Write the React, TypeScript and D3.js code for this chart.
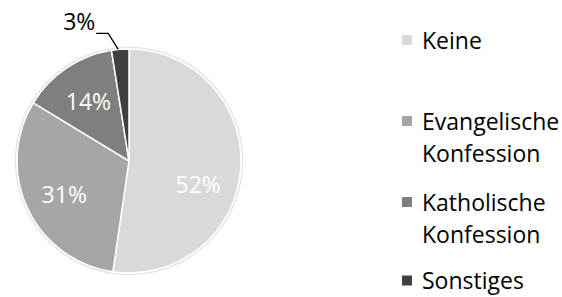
import React from "react";
import * as d3 from "d3";

const categories = ["Keine", "Evangelische Konfession", "Katholische Konfession", "Sonstiges"];
const values = [52.3, 31.4, 13.8, 2.5];
const labels = ["52%", "31%", "14%", "3%"];
const legendLines = [["Keine"], ["Evangelische", "Konfession"], ["Katholische", "Konfession"], ["Sonstiges"]];
const colors = ["#d9d9d9", "#a6a6a6", "#7f7f7f", "#404040"];
const labelAngleShift = [14, -2, 0, 0];

export default function App() {
  const W = 562, H = 297;
  const cx = 129, cy = 161, r = 112;
  const pie = d3.pie<number>().sort(null).value((d) => d);
  const arcs = pie(values);
  const arc = d3.arc<d3.PieArcDatum<number>>().innerRadius(0).outerRadius(r);
  const font = "'Open Sans', sans-serif";
  const legendBase = [48.5, 129.5, 210.5, 289];
  const fs = 23;
  return (
    <svg width={W} height={H} style={{ position: "absolute", left: 0, top: 0 }}>
      <rect width={W} height={H} fill="#fff" />
      <g transform={`translate(${cx},${cy})`}>
        <circle r={r + 1.5} fill="none" stroke="#e4e4e4" strokeWidth={1.5} />
        {arcs.map((a, i) => (
          <path key={i} d={arc(a) || ""} fill={colors[i]} stroke="#fff" strokeWidth={1.5} />
        ))}
        {arcs.map((a, i) => {
          if (i === 3) return null;
          const mid = (a.startAngle + a.endAngle) / 2 + (labelAngleShift[i] * Math.PI) / 180;
          const lr = r * 0.65;
          const x = Math.sin(mid) * lr;
          const y = -Math.cos(mid) * lr;
          return (
            <text key={i} x={x} y={y} textAnchor="middle" dominantBaseline="central" fill="#fff" fontSize={fs} fontFamily={font}>
              {labels[i]}
            </text>
          );
        })}
        {(() => {
          const a = arcs[3];
          const mid = (a.startAngle + a.endAngle) / 2;
          const px = Math.sin(mid) * r;
          const py = -Math.cos(mid) * r;
          return (
            <g>
              <polyline points={`${px - 2},${py} ${px - 12},${py - 16} ${px - 24},${py - 16}`} fill="none" stroke="#000" strokeWidth={1.3} />
              <text x={px - 41} y={py - 28} textAnchor="middle" dominantBaseline="central" fill="#000" fontSize={fs} fontFamily={font}>
                {labels[3]}
              </text>
            </g>
          );
        })()}
      </g>
      {categories.map((c, i) => (
        <g key={c}>
          <rect x={402} y={legendBase[i] - 13.5} width={10} height={10} fill={colors[i]} />
          {legendLines[i].map((t, j) => (
            <text key={j} x={422} y={legendBase[i] + j * 32} fontSize={fs} fontFamily={font} fill="#000">
              {t}
            </text>
          ))}
        </g>
      ))}
    </svg>
  );
}
